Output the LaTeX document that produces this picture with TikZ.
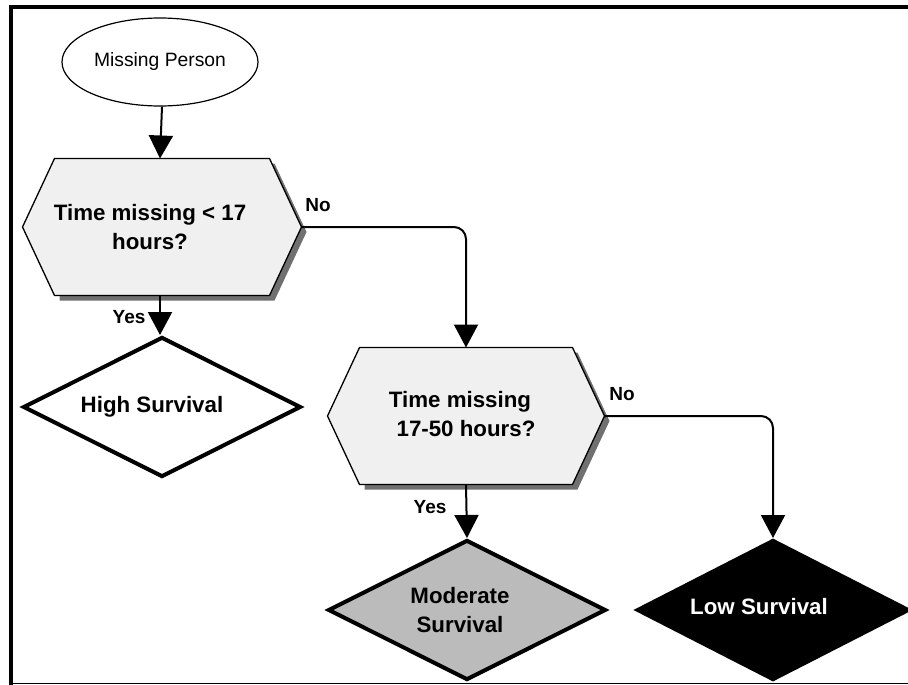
\documentclass[tikz,border=0pt]{standalone}
\usepackage{fontspec}
\setmainfont{Liberation Sans}
\usetikzlibrary{shapes.geometric,arrows.meta,calc}
\definecolor{hexfill}{HTML}{F0F0F0}
\definecolor{hexshadow}{HTML}{707070}
\definecolor{modfill}{HTML}{BBBBBB}
\begin{document}
\begin{tikzpicture}[x=1pt,y=1pt,
  conn/.style={line width=2pt,-{Triangle[length=23pt,width=24pt]}},
  hexarea/.style={minimum width=279pt,minimum height=137pt,inner sep=0pt,outer sep=0pt},
  bigtext/.style={font=\bfseries\fontsize{22.3}{29}\selectfont,align=center,inner sep=0pt},
  smalllab/.style={font=\bfseries\fontsize{19}{22}\selectfont,inner sep=0pt},
  endbox/.style={diamond,aspect=2,minimum width=278pt,minimum height=140pt,inner sep=0pt,
    line width=4pt,draw=black}
]
\useasboundingbox (0,0) rectangle (908,-685);
% frame
\draw[line width=4.5pt] (11,-688) -- (11,-7) -- (910,-7);
\draw[line width=1.2pt] (11,-683.5) -- (910,-683.5);

% start ellipse
\node[ellipse,draw,line width=1.2pt,minimum width=186pt,minimum height=88pt,
  font=\fontsize{19.3}{22}\selectfont] (start) at (160,-62) {Missing Person};

% hexagon 1
\node[hexarea] (h1) at (162,-227) {};
\fill[hexshadow] ($(h1.north west)+(37,-5)$) -- ($(h1.north east)+(-27,-5)$) -- ($(h1.east)+(5,-5)$)
  -- ($(h1.south east)+(-27,-5)$) -- ($(h1.south west)+(37,-5)$) -- cycle;
\draw[fill=hexfill,line width=1.3pt] ($(h1.north west)+(32,0)$) -- ($(h1.north east)+(-32,0)$) -- (h1.east)
  -- ($(h1.south east)+(-32,0)$) -- ($(h1.south west)+(32,0)$) -- (h1.west) -- cycle;
\node[bigtext] (h1t) at ($(h1.center)+(-12,0)$) {Time missing < 17\\hours?};

% hexagon 2
\node[hexarea,minimum width=277pt] (h2) at (466,-416) {};
\fill[hexshadow] ($(h2.north west)+(37,-5)$) -- ($(h2.north east)+(-27,-5)$) -- ($(h2.east)+(5,-5)$)
  -- ($(h2.south east)+(-27,-5)$) -- ($(h2.south west)+(37,-5)$) -- cycle;
\draw[fill=hexfill,line width=1.3pt] ($(h2.north west)+(32,0)$) -- ($(h2.north east)+(-32,0)$) -- (h2.east)
  -- ($(h2.south east)+(-32,0)$) -- ($(h2.south west)+(32,0)$) -- (h2.west) -- cycle;
\node[bigtext] (h2t) at ($(h2.center)+(-6,2)$) {Time missing\\\hspace*{12pt}17-50 hours?};

% end diamonds
\node[endbox,fill=white] (high) at (162,-407) {};
\node[endbox,fill=modfill] (mod) at (467,-610) {};
\node[endbox,fill=black,minimum width=272pt] (low) at (773,-610) {};
\node[bigtext] (hight) at ($(high.center)+(-10,0)$) {High Survival};
\node[bigtext] (modt) at ($(mod.center)+(-7,0)$) {Moderate\\Survival};
\node[bigtext,text=white] (lowt) at ($(low.center)+(-14,3)$) {Low Survival};

% connectors
\draw[conn] (start.south -| h1.north) -- ([xshift=-2pt]h1.north);
\draw[conn] ([xshift=-2pt]h1.south) -- ([xshift=-2pt]high.north);
\draw[conn,rounded corners=12pt] (h1.east) -| (h2.north);
\draw[conn] (h2.south) -- (mod.north);
\draw[conn,rounded corners=12pt] (h2.east) -| (low.north);

% labels
\node[smalllab] (no1) at (318,-205) {No};
\node[smalllab] (yes1) at (129,-317) {Yes};
\node[smalllab] (no2) at (622,-394) {No};
\node[smalllab] (yes2) at (430,-507) {Yes};
\end{tikzpicture}
\end{document}
